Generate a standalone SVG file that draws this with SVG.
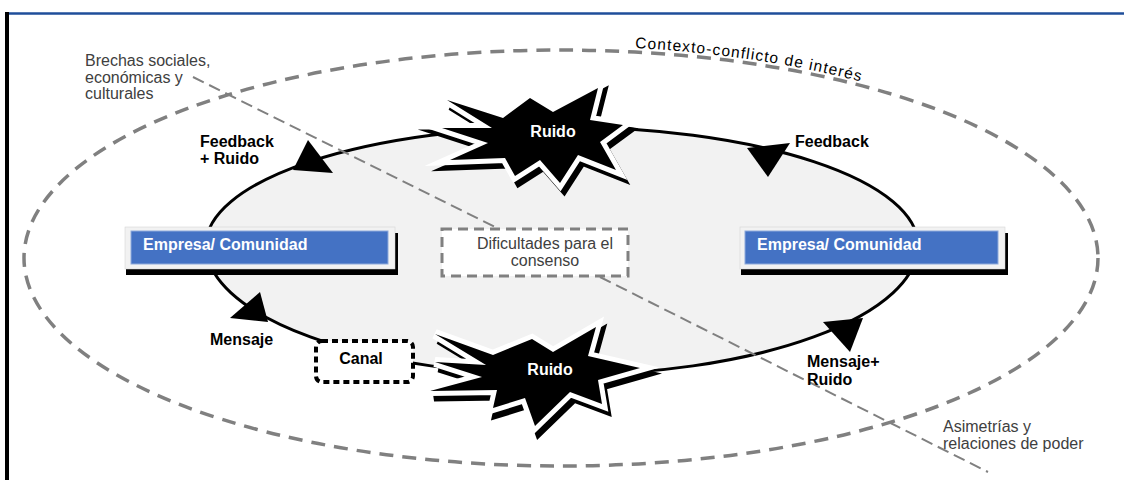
<svg xmlns="http://www.w3.org/2000/svg" width="1124" height="480" viewBox="0 0 1124 480">
<style>
  .lbl{font-family:"Liberation Sans",Arial,sans-serif;font-size:16px;font-weight:bold;fill:#000}
  .note{font-family:"Liberation Sans",Arial,sans-serif;font-size:16px;fill:#404040}
  .wht{font-family:"Liberation Sans",Arial,sans-serif;font-size:16px;font-weight:bold;fill:#fff}
  .arrow{fill:#000}
  .diag{stroke:#808080;stroke-width:2;stroke-dasharray:12 6;fill:none}
  .shadow{fill:#000;stroke:#000;stroke-width:9;stroke-linejoin:miter;stroke-miterlimit:8}
  .halo{fill:#fff;stroke:#fff;stroke-width:10;stroke-linejoin:miter;stroke-miterlimit:8}
</style>
<defs>
  <path id="ctxArc" d="M 635,48 A 541 212 0 0 1 1102,258"/>
  <polygon id="starTop" points="447,100 503,118 530,98 553,112 598,88 590,120 623,125 600,142 616,170 578,155 560,183 540,160 515,176 505,158 450,160 488,143 442,128 492,128"/>
  <polygon id="starBot" points="435,334 493,355 532,339 553,352 596,327 588,356 640,368 598,380 602,404 570,392 535,426 525,398 493,408 497,390 430,391 482,377 435,362 486,365"/>
</defs>
<rect width="1124" height="480" fill="#fff"/>
<g id="frame">
  <line x1="5" y1="13.5" x2="1124" y2="13.5" stroke="#1f4e9a" stroke-width="2.5"/>
  <rect x="5" y="12" width="4" height="468" fill="#000"/>
</g>
<g id="context">
  <ellipse cx="561" cy="258" rx="537" ry="208" fill="none" stroke="#808080" stroke-width="3.5" stroke-dasharray="14 9"/>
  <text font-family="'Liberation Sans',Arial,sans-serif" font-size="15.5" fill="#000"><textPath href="#ctxArc" textLength="228" lengthAdjust="spacing">Contexto-conflicto de interés</textPath></text>
</g>
<g id="connectors">
  <path d="M 206,245 A 356 118 0 0 1 918,245 A 356 130 0 0 1 206,245 Z" fill="#f2f2f2" stroke="#000" stroke-width="3"/>
  <line class="diag" x1="193" y1="77" x2="497" y2="228"/>
  <line class="diag" x1="600" y1="277" x2="988" y2="472"/>
  <polygon class="arrow" points="308,140 333,173 293,170"/>
  <polygon class="arrow" points="790,143 768,177 747,148"/>
  <polygon class="arrow" points="260,292 230,318 268,322"/>
  <polygon class="arrow" points="823,322 850,352 863,318"/>
</g>
<g id="dificultades">
  <rect x="442" y="229" width="186" height="47" fill="#fff" stroke="#808080" stroke-width="3" stroke-dasharray="10 6"/>
  <text class="note" x="545" y="249" text-anchor="middle">Dificultades para el</text>
  <text class="note" x="545" y="266" text-anchor="middle">consenso</text>
</g>
<g id="empresa-left">
  <rect x="126" y="233" width="272" height="42" fill="#000"/>
  <rect x="125" y="227" width="270" height="42" fill="#f2f2f2" stroke="#d0d0d0" stroke-width="0.5"/>
  <rect x="131" y="231" width="257" height="33" fill="#4472c4" stroke="#8eaadb" stroke-width="1"/>
  <text class="wht" x="143" y="250">Empresa/ Comunidad</text>
</g>
<g id="empresa-right">
  <rect x="741" y="233" width="267" height="42" fill="#000"/>
  <rect x="740" y="227" width="265" height="42" fill="#f2f2f2" stroke="#d0d0d0" stroke-width="0.5"/>
  <rect x="745" y="231" width="253" height="33" fill="#4472c4" stroke="#8eaadb" stroke-width="1"/>
  <text class="wht" x="757" y="250">Empresa/ Comunidad</text>
</g>
<g id="canal">
  <rect x="316" y="341" width="97" height="41" rx="6" fill="#fff" stroke="#000" stroke-width="4" stroke-dasharray="6 4"/>
  <text class="lbl" x="361" y="364" text-anchor="middle">Canal</text>
</g>
<g id="ruido-top">
  <use href="#starTop" class="shadow" transform="translate(4,6)"/>
  <use href="#starTop" class="halo"/>
  <use href="#starTop" fill="#000"/>
  <text class="wht" x="553" y="137" text-anchor="middle">Ruido</text>
</g>
<g id="ruido-bottom">
  <use href="#starBot" class="shadow" transform="translate(4,6)"/>
  <use href="#starBot" class="halo"/>
  <use href="#starBot" fill="#000"/>
  <text class="wht" x="550" y="375" text-anchor="middle">Ruido</text>
</g>
<g id="labels">
  <text class="lbl" x="200" y="147">Feedback</text>
  <text class="lbl" x="200" y="164">+ Ruido</text>
  <text class="lbl" x="795" y="147">Feedback</text>
  <text class="lbl" x="210" y="345">Mensaje</text>
  <text class="lbl" x="807" y="367">Mensaje+</text>
  <text class="lbl" x="807" y="385">Ruido</text>
</g>
<g id="brechas">
  <text class="note" x="85" y="66">Brechas sociales,</text>
  <text class="note" x="85" y="83">económicas y</text>
  <text class="note" x="85" y="99">culturales</text>
</g>
<g id="asimetrias">
  <text class="note" x="943" y="432">Asimetrías y</text>
  <text class="note" x="943" y="449">relaciones de poder</text>
</g>
</svg>
